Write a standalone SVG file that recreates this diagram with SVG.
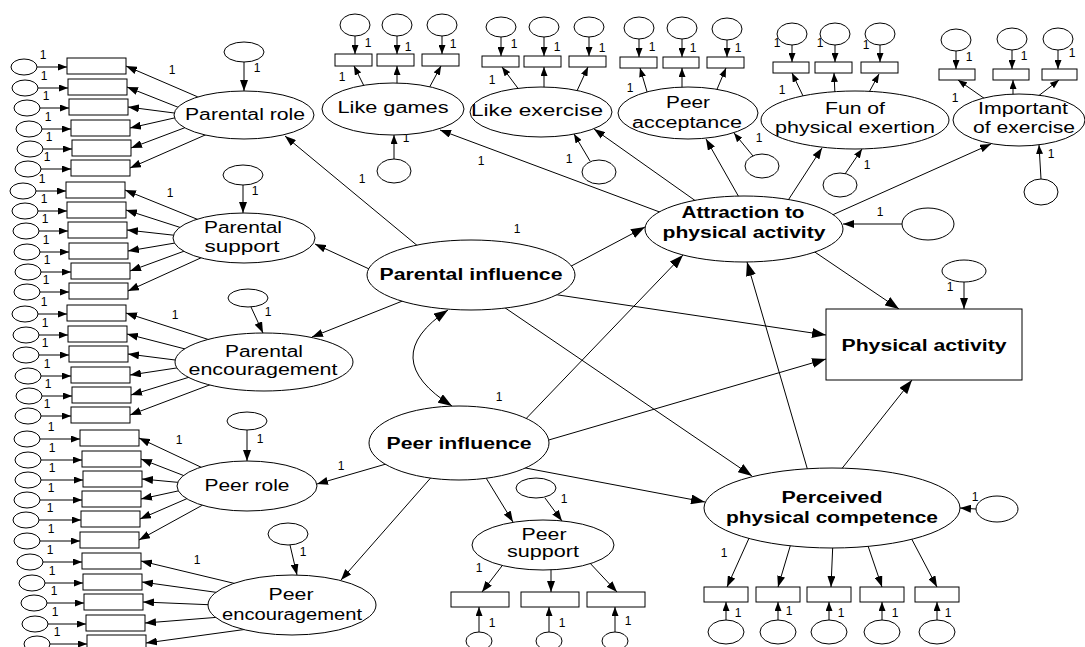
<svg xmlns="http://www.w3.org/2000/svg" width="1085" height="647" viewBox="0 0 1085 647">
<defs>
<style>
.c{stroke:#000;stroke-width:1;fill:none}
.s{marker-end:url(#as)}
.m{marker-end:url(#am)}
.b{marker-end:url(#ab)}
.e{fill:#fff;stroke:#000;stroke-width:1}
.r{fill:#fff;stroke:#000;stroke-width:1}
text{font-family:"Liberation Sans",Arial,sans-serif;text-anchor:middle;fill:#000}
.t{font-size:16px}
.tb{font-size:16px;font-weight:bold}
.n{font-size:12px}
</style>
<marker id="as" viewBox="0 0 9 7" refX="9" refY="3.5" markerWidth="9" markerHeight="7" markerUnits="userSpaceOnUse" orient="auto"><path d="M0,0L9,3.5L0,7z"/></marker>
<marker id="am" viewBox="0 0 11 8" refX="11" refY="4" markerWidth="11" markerHeight="8" markerUnits="userSpaceOnUse" orient="auto"><path d="M0,0L11,4L0,8z"/></marker>
<marker id="ab" viewBox="0 0 14 10" refX="14" refY="5" markerWidth="14" markerHeight="10" markerUnits="userSpaceOnUse" orient="auto"><path d="M0,0L14,5L0,10z"/></marker>
<marker id="abr" viewBox="0 0 14 10" refX="14" refY="5" markerWidth="14" markerHeight="10" markerUnits="userSpaceOnUse" orient="auto-start-reverse"><path d="M0,0L14,5L0,10z"/></marker>
</defs>
<rect width="1085" height="647" fill="#fff"/>

<!-- paths, drawn beneath the nodes -->
<g id="connectors">
<!-- left column: error terms into items -->
<g class="c s">
<path d="M37,67H67"/><path d="M38,88H68"/><path d="M40,108H69"/><path d="M42,129H71"/><path d="M43,149H72"/><path d="M41,169H71"/>
<path d="M36,191H66"/><path d="M38,211H67"/><path d="M39,231H68"/><path d="M40,252H69"/><path d="M41,272H71"/><path d="M40,292H69"/>
<path d="M38,314H67"/><path d="M39,335H68"/><path d="M39,355H69"/><path d="M41,376H71"/><path d="M42,396H72"/><path d="M41,416H71"/>
<path d="M40,439H80"/><path d="M41,460H82"/><path d="M41,480H83"/><path d="M40,500H82"/><path d="M39,520H81"/><path d="M40,541H80"/>
<path d="M43,562H82"/><path d="M45,583H83"/><path d="M47,603H84"/><path d="M48,624H86"/><path d="M50,644H87"/>
</g>
<!-- left column: loadings -->
<g class="c m">
<path d="M205,100L126,66"/><path d="M185,110L127,87"/><path d="M182,114L128,107"/><path d="M183,116L130,128"/><path d="M192,125L131,148"/><path d="M212,132L130,168"/>
<path d="M204,222L125,190"/><path d="M185,229L126,210"/><path d="M181,236L127,230"/><path d="M181,242L128,251"/><path d="M190,249L130,271"/><path d="M205,256L128,291"/>
<path d="M213,341L126,313"/><path d="M193,351L127,334"/><path d="M183,361L128,354"/><path d="M183,367L130,375"/><path d="M193,376L131,395"/><path d="M212,384L130,415"/>
<path d="M207,470L139,438"/><path d="M190,478L141,459"/><path d="M185,483L142,479"/><path d="M187,489L141,499"/><path d="M193,496L140,519"/><path d="M210,501L139,540"/>
<path d="M241,585L141,561"/><path d="M221,593L142,582"/><path d="M216,605L143,602"/><path d="M221,617L145,623"/><path d="M248,629L146,643"/>
<!-- left column: disturbances -->
<path d="M244,62L244,91"/><path d="M243,185L243,213"/><path d="M251,307L263,333"/><path d="M247,430L247,461"/><path d="M290,545L297,575"/>
</g>
<!-- top row: errors, loadings, disturbances -->
<g class="c s">
<path d="M355,36V54"/><path d="M397,36V54"/><path d="M442,36V54"/>
<path d="M501,37V56"/><path d="M544,37V56"/><path d="M589,37V56"/>
<path d="M639,39V57"/><path d="M682,39V57"/><path d="M727,40V57"/>
<path d="M792,45V62"/><path d="M835,45V62"/><path d="M880,45V62"/>
<path d="M956,51V69"/><path d="M1012,50V69"/><path d="M1058,50V69"/>
<path d="M366,90L354,66"/><path d="M397,90L397,66"/><path d="M428,90L441,66"/>
<path d="M520,91L502,67"/><path d="M544,91L544,67"/><path d="M576,93L588,67"/>
<path d="M648,95L640,68"/><path d="M682,92L682,68"/><path d="M715,94L726,68"/>
<path d="M804,98L792,73"/><path d="M835,95L834,73"/><path d="M867,96L879,74"/>
<path d="M988,101L958,80"/><path d="M1013,98L1013,80"/><path d="M1037,97L1059,80"/>
<path d="M394,159L394,135"/><path d="M590,161L574,134"/><path d="M753,156L734,133"/><path d="M845,174L862,149"/><path d="M1041,179L1039,145"/>
</g>
<g class="c m">
<!-- attraction to its first-order factors -->
<path d="M665,214L440,130"/><path d="M700,204L594,129"/><path d="M740,199L706,139"/><path d="M785,205L822,148"/><path d="M830,216L991,144"/>
<!-- second-order factors to first-order factors -->
<path d="M425,252L285,136"/><path d="M380,274L315,244"/><path d="M410,298L312,337"/>
<path d="M393,462L317,484"/><path d="M435,473L341,580"/><path d="M483,473L513,522"/>
<!-- peer support block -->
<path d="M545,498L562,521"/>
<path d="M505,562L482,592"/><path d="M551,568L551,592"/><path d="M588,561L617,592"/>
<!-- perceived competence block -->
<path d="M750,536L727,587"/><path d="M792,540L778,587"/><path d="M833,540L831,587"/><path d="M866,540L882,587"/><path d="M909,534L937,587"/>
<path d="M976,509L960,508"/>
<path d="M902,224L843,224"/><path d="M964,282L964,309"/>
</g>
<g class="c s">
<path d="M479,632V607"/><path d="M549,632V607"/><path d="M615,632V607"/>
<path d="M726,620V602"/><path d="M778,620V602"/><path d="M829,620V602"/><path d="M882,620V602"/><path d="M937,620V602"/>
</g>
<!-- structural paths -->
<g class="c b">
<path d="M560,272L645,227"/><path d="M545,293L826,335"/><path d="M495,301L752,476"/>
<path d="M519,426L683,255"/><path d="M535,444L826,359"/><path d="M515,466L705,502"/>
<path d="M800,242L899,309"/><path d="M810,478L747,262"/><path d="M836,476L912,380"/>
</g>
<path class="c" d="M448,310Q376,358 452,406" marker-start="url(#abr)" marker-end="url(#abr)"/>
</g>

<!-- fixed weights -->
<g id="weights" class="n">
<text class="n" x="43" y="59">1</text><text class="n" x="44" y="80">1</text><text class="n" x="46" y="100">1</text><text class="n" x="48" y="121">1</text><text class="n" x="49" y="141">1</text><text class="n" x="47" y="161">1</text>
<text class="n" x="42" y="183">1</text><text class="n" x="44" y="203">1</text><text class="n" x="45" y="223">1</text><text class="n" x="46" y="244">1</text><text class="n" x="47" y="264">1</text><text class="n" x="46" y="284">1</text>
<text class="n" x="44" y="306">1</text><text class="n" x="45" y="327">1</text><text class="n" x="45" y="347">1</text><text class="n" x="47" y="368">1</text><text class="n" x="48" y="388">1</text><text class="n" x="47" y="408">1</text>
<text class="n" x="51" y="431">1</text><text class="n" x="52" y="452">1</text><text class="n" x="52" y="472">1</text><text class="n" x="51" y="492">1</text><text class="n" x="50" y="512">1</text><text class="n" x="51" y="533">1</text>
<text class="n" x="50" y="554">1</text><text class="n" x="52" y="575">1</text><text class="n" x="54" y="595">1</text><text class="n" x="55" y="616">1</text><text class="n" x="57" y="636">1</text>
<text class="n" x="172" y="74">1</text><text class="n" x="170" y="197">1</text><text class="n" x="175" y="319">1</text><text class="n" x="179" y="444">1</text><text class="n" x="197" y="564">1</text>
<text class="n" x="257" y="72">1</text><text class="n" x="255" y="195">1</text><text class="n" x="268" y="316">1</text><text class="n" x="260" y="443">1</text><text class="n" x="303" y="556">1</text>
<text class="n" x="368" y="47">1</text><text class="n" x="408" y="51">1</text><text class="n" x="453" y="48">1</text><text class="n" x="342" y="81">1</text><text class="n" x="406" y="142">1</text>
<text class="n" x="514" y="48">1</text><text class="n" x="557" y="51">1</text><text class="n" x="602" y="52">1</text><text class="n" x="492" y="84">1</text><text class="n" x="569" y="163">1</text>
<text class="n" x="652" y="51">1</text><text class="n" x="693" y="52">1</text><text class="n" x="738" y="52">1</text><text class="n" x="630" y="92">1</text><text class="n" x="759" y="142">1</text>
<text class="n" x="777" y="47">1</text><text class="n" x="820" y="47">1</text><text class="n" x="866" y="49">1</text><text class="n" x="782" y="94">1</text><text class="n" x="867" y="169">1</text>
<text class="n" x="969" y="61">1</text><text class="n" x="1024" y="60">1</text><text class="n" x="1072" y="57">1</text><text class="n" x="955" y="102">1</text><text class="n" x="1051" y="158">1</text>
<text class="n" x="880" y="216">1</text><text class="n" x="950" y="291">1</text>
<text class="n" x="517" y="233">1</text><text class="n" x="499" y="401">1</text><text class="n" x="362" y="183">1</text><text class="n" x="481" y="165">1</text><text class="n" x="341" y="470">1</text>
<text class="n" x="564" y="503">1</text><text class="n" x="479" y="572">1</text><text class="n" x="492" y="627">1</text><text class="n" x="562" y="627">1</text><text class="n" x="628" y="625">1</text>
<text class="n" x="975" y="501">1</text><text class="n" x="724" y="557">1</text><text class="n" x="738" y="617">1</text><text class="n" x="789" y="615">1</text><text class="n" x="841" y="617">1</text><text class="n" x="895" y="617">1</text><text class="n" x="948" y="617">1</text>
</g>

<!-- Parental role -->
<g id="parental-role">
<g class="e"><ellipse cx="24" cy="67" rx="13" ry="8"/><ellipse cx="25" cy="88" rx="13" ry="8"/><ellipse cx="27" cy="108" rx="13" ry="8"/><ellipse cx="29" cy="129" rx="13" ry="8"/><ellipse cx="30" cy="149" rx="13" ry="8"/><ellipse cx="28" cy="169" rx="13" ry="8"/></g>
<g class="r"><rect x="67" y="58" width="59" height="16"/><rect x="68" y="79" width="59" height="16"/><rect x="69" y="99" width="59" height="16"/><rect x="71" y="120" width="59" height="16"/><rect x="72" y="140" width="59" height="16"/><rect x="71" y="160" width="59" height="16"/></g>
<ellipse class="e" cx="244" cy="52" rx="20" ry="10"/>
<ellipse class="e" cx="244" cy="115" rx="70" ry="24"/>
<text class="t" x="245" y="120" textLength="120" lengthAdjust="spacingAndGlyphs">Parental role</text>
</g>

<!-- Parental support -->
<g id="parental-support">
<g class="e"><ellipse cx="23" cy="191" rx="13" ry="8"/><ellipse cx="25" cy="211" rx="13" ry="8"/><ellipse cx="26" cy="231" rx="13" ry="8"/><ellipse cx="27" cy="252" rx="13" ry="8"/><ellipse cx="28" cy="272" rx="13" ry="8"/><ellipse cx="27" cy="292" rx="13" ry="8"/></g>
<g class="r"><rect x="66" y="182" width="59" height="16"/><rect x="67" y="202" width="59" height="16"/><rect x="68" y="222" width="59" height="16"/><rect x="69" y="243" width="59" height="16"/><rect x="71" y="263" width="59" height="16"/><rect x="69" y="283" width="59" height="16"/></g>
<ellipse class="e" cx="243" cy="175" rx="20" ry="10"/>
<ellipse class="e" cx="244" cy="238" rx="71" ry="25"/>
<text class="t" x="243" y="233" textLength="78" lengthAdjust="spacingAndGlyphs">Parental</text>
<text class="t" x="242" y="252" textLength="75" lengthAdjust="spacingAndGlyphs">support</text>
</g>

<!-- Parental encouragement -->
<g id="parental-encouragement">
<g class="e"><ellipse cx="25" cy="314" rx="13" ry="8"/><ellipse cx="26" cy="335" rx="13" ry="8"/><ellipse cx="26" cy="355" rx="13" ry="8"/><ellipse cx="28" cy="376" rx="13" ry="8"/><ellipse cx="29" cy="396" rx="13" ry="8"/><ellipse cx="28" cy="416" rx="13" ry="8"/></g>
<g class="r"><rect x="67" y="305" width="59" height="16"/><rect x="68" y="326" width="59" height="16"/><rect x="69" y="346" width="59" height="16"/><rect x="71" y="367" width="59" height="16"/><rect x="72" y="387" width="59" height="16"/><rect x="71" y="407" width="59" height="16"/></g>
<ellipse class="e" cx="248" cy="298" rx="20" ry="9"/>
<ellipse class="e" cx="264" cy="362" rx="89" ry="29"/>
<text class="t" x="264" y="357" textLength="78" lengthAdjust="spacingAndGlyphs">Parental</text>
<text class="t" x="263" y="375" textLength="149" lengthAdjust="spacingAndGlyphs">encouragement</text>
</g>

<!-- Peer role -->
<g id="peer-role">
<g class="e"><ellipse cx="27" cy="439" rx="13" ry="8"/><ellipse cx="28" cy="460" rx="13" ry="8"/><ellipse cx="28" cy="480" rx="13" ry="8"/><ellipse cx="27" cy="500" rx="13" ry="8"/><ellipse cx="26" cy="520" rx="13" ry="8"/><ellipse cx="27" cy="541" rx="13" ry="8"/></g>
<g class="r"><rect x="80" y="430" width="59" height="16"/><rect x="82" y="451" width="59" height="16"/><rect x="83" y="471" width="59" height="16"/><rect x="82" y="491" width="59" height="16"/><rect x="81" y="511" width="59" height="16"/><rect x="80" y="532" width="59" height="16"/></g>
<ellipse class="e" cx="247" cy="421" rx="20" ry="9"/>
<ellipse class="e" cx="247" cy="486" rx="70" ry="25"/>
<text class="t" x="247" y="491" textLength="85" lengthAdjust="spacingAndGlyphs">Peer role</text>
</g>

<!-- Peer encouragement -->
<g id="peer-encouragement">
<g class="e"><ellipse cx="30" cy="562" rx="13" ry="8"/><ellipse cx="32" cy="583" rx="13" ry="8"/><ellipse cx="34" cy="603" rx="13" ry="8"/><ellipse cx="35" cy="624" rx="13" ry="8"/><ellipse cx="37" cy="644" rx="13" ry="8"/></g>
<g class="r"><rect x="82" y="553" width="59" height="16"/><rect x="83" y="574" width="59" height="16"/><rect x="84" y="594" width="59" height="16"/><rect x="86" y="615" width="59" height="16"/><rect x="87" y="635" width="59" height="16"/></g>
<ellipse class="e" cx="288" cy="534" rx="20" ry="11"/>
<ellipse class="e" cx="292" cy="605" rx="84" ry="30"/>
<text class="t" x="291" y="600" textLength="45" lengthAdjust="spacingAndGlyphs">Peer</text>
<text class="t" x="292" y="620" textLength="140" lengthAdjust="spacingAndGlyphs">encouragement</text>
</g>

<!-- Like games -->
<g id="like-games">
<g class="e"><ellipse cx="355" cy="25" rx="15" ry="11"/><ellipse cx="397" cy="25" rx="15" ry="11"/><ellipse cx="442" cy="25" rx="15" ry="11"/></g>
<g class="r"><rect x="335" y="54" width="37" height="12"/><rect x="377" y="54" width="37" height="12"/><rect x="422" y="54" width="37" height="12"/></g>
<ellipse class="e" cx="394" cy="171" rx="17" ry="12"/>
<ellipse class="e" cx="393" cy="109" rx="71" ry="26"/>
<text class="t" x="393" y="113" textLength="111" lengthAdjust="spacingAndGlyphs">Like games</text>
</g>

<!-- Like exercise -->
<g id="like-exercise">
<g class="e"><ellipse cx="501" cy="27" rx="15" ry="10"/><ellipse cx="544" cy="27" rx="15" ry="10"/><ellipse cx="589" cy="27" rx="15" ry="10"/></g>
<g class="r"><rect x="482" y="56" width="37" height="11"/><rect x="524" y="56" width="37" height="11"/><rect x="569" y="56" width="37" height="11"/></g>
<ellipse class="e" cx="599" cy="172" rx="17" ry="12"/>
<ellipse class="e" cx="541" cy="112" rx="71" ry="25"/>
<text class="t" x="537" y="116" textLength="132" lengthAdjust="spacingAndGlyphs">Like exercise</text>
</g>

<!-- Peer acceptance -->
<g id="peer-acceptance">
<g class="e"><ellipse cx="639" cy="28" rx="15" ry="11"/><ellipse cx="682" cy="28" rx="15" ry="11"/><ellipse cx="727" cy="29" rx="15" ry="11"/></g>
<g class="r"><rect x="620" y="57" width="37" height="11"/><rect x="663" y="57" width="36" height="11"/><rect x="707" y="57" width="37" height="11"/></g>
<ellipse class="e" cx="762" cy="166" rx="17" ry="12"/>
<ellipse class="e" cx="688" cy="113" rx="70" ry="26"/>
<text class="t" x="688" y="108" textLength="44" lengthAdjust="spacingAndGlyphs">Peer</text>
<text class="t" x="687" y="128" textLength="110" lengthAdjust="spacingAndGlyphs">acceptance</text>
</g>

<!-- Fun of physical exertion -->
<g id="fun-of-exertion">
<g class="e"><ellipse cx="792" cy="34" rx="15" ry="11"/><ellipse cx="835" cy="34" rx="15" ry="11"/><ellipse cx="880" cy="34" rx="15" ry="11"/></g>
<g class="r"><rect x="773" y="62" width="36" height="11"/><rect x="815" y="62" width="37" height="11"/><rect x="861" y="62" width="37" height="11"/></g>
<ellipse class="e" cx="840" cy="185" rx="17" ry="12"/>
<ellipse class="e" cx="855" cy="120" rx="94" ry="29"/>
<text class="t" x="855" y="114" textLength="60" lengthAdjust="spacingAndGlyphs">Fun of</text>
<text class="t" x="855" y="133" textLength="160" lengthAdjust="spacingAndGlyphs">physical exertion</text>
</g>

<!-- Important of exercise -->
<g id="important-of-exercise">
<g class="e"><ellipse cx="956" cy="40" rx="15" ry="11"/><ellipse cx="1012" cy="39" rx="15" ry="11"/><ellipse cx="1058" cy="39" rx="15" ry="11"/></g>
<g class="r"><rect x="939" y="69" width="36" height="11"/><rect x="993" y="69" width="36" height="11"/><rect x="1042" y="69" width="35" height="11"/></g>
<ellipse class="e" cx="1041" cy="192" rx="17" ry="13"/>
<ellipse class="e" cx="1019" cy="120" rx="66" ry="26"/>
<text class="t" x="1023" y="114" textLength="90" lengthAdjust="spacingAndGlyphs">Important</text>
<text class="t" x="1024" y="133" textLength="102" lengthAdjust="spacingAndGlyphs">of exercise</text>
</g>

<!-- Attraction to physical activity -->
<g id="attraction">
<ellipse class="e" cx="928" cy="224" rx="26" ry="16"/>
<ellipse class="e" cx="744" cy="229" rx="99" ry="33"/>
<text class="tb" x="743" y="218" textLength="123" lengthAdjust="spacingAndGlyphs">Attraction to</text>
<text class="tb" x="744" y="238" textLength="163" lengthAdjust="spacingAndGlyphs">physical activity</text>
</g>

<!-- Physical activity -->
<g id="physical-activity">
<ellipse class="e" cx="964" cy="271" rx="22" ry="11"/>
<rect class="r" x="826" y="309" width="196" height="71"/>
<text class="tb" x="924" y="351" textLength="165" lengthAdjust="spacingAndGlyphs">Physical activity</text>
</g>

<!-- Parental influence -->
<g id="parental-influence">
<ellipse class="e" cx="471" cy="275" rx="104" ry="35"/>
<text class="tb" x="471" y="280" textLength="183" lengthAdjust="spacingAndGlyphs">Parental influence</text>
</g>

<!-- Peer influence -->
<g id="peer-influence">
<ellipse class="e" cx="459" cy="443" rx="90" ry="37"/>
<text class="tb" x="459" y="449" textLength="145" lengthAdjust="spacingAndGlyphs">Peer influence</text>
</g>

<!-- Peer support -->
<g id="peer-support">
<ellipse class="e" cx="536" cy="488" rx="20" ry="10"/>
<g class="r"><rect x="451" y="592" width="58" height="15"/><rect x="521" y="592" width="58" height="15"/><rect x="587" y="592" width="58" height="15"/></g>
<g class="e"><ellipse cx="479" cy="641" rx="13" ry="9"/><ellipse cx="549" cy="641" rx="13" ry="9"/><ellipse cx="615" cy="641" rx="13" ry="9"/></g>
<ellipse class="e" cx="543" cy="545" rx="71" ry="25"/>
<text class="t" x="544" y="540" textLength="45" lengthAdjust="spacingAndGlyphs">Peer</text>
<text class="t" x="543" y="557" textLength="72" lengthAdjust="spacingAndGlyphs">support</text>
</g>

<!-- Perceived physical competence -->
<g id="perceived-competence">
<ellipse class="e" cx="997" cy="509" rx="21" ry="13"/>
<g class="r"><rect x="704" y="587" width="44" height="15"/><rect x="756" y="587" width="44" height="15"/><rect x="807" y="587" width="44" height="15"/><rect x="860" y="587" width="44" height="15"/><rect x="915" y="587" width="44" height="15"/></g>
<g class="e"><ellipse cx="726" cy="632" rx="18" ry="12"/><ellipse cx="778" cy="632" rx="18" ry="12"/><ellipse cx="829" cy="632" rx="18" ry="12"/><ellipse cx="882" cy="632" rx="18" ry="12"/><ellipse cx="937" cy="632" rx="18" ry="12"/></g>
<ellipse class="e" cx="832" cy="508" rx="128" ry="40"/>
<text class="tb" x="832" y="503" textLength="101" lengthAdjust="spacingAndGlyphs">Perceived</text>
<text class="tb" x="832" y="523" textLength="212" lengthAdjust="spacingAndGlyphs">physical competence</text>
</g>
</svg>
